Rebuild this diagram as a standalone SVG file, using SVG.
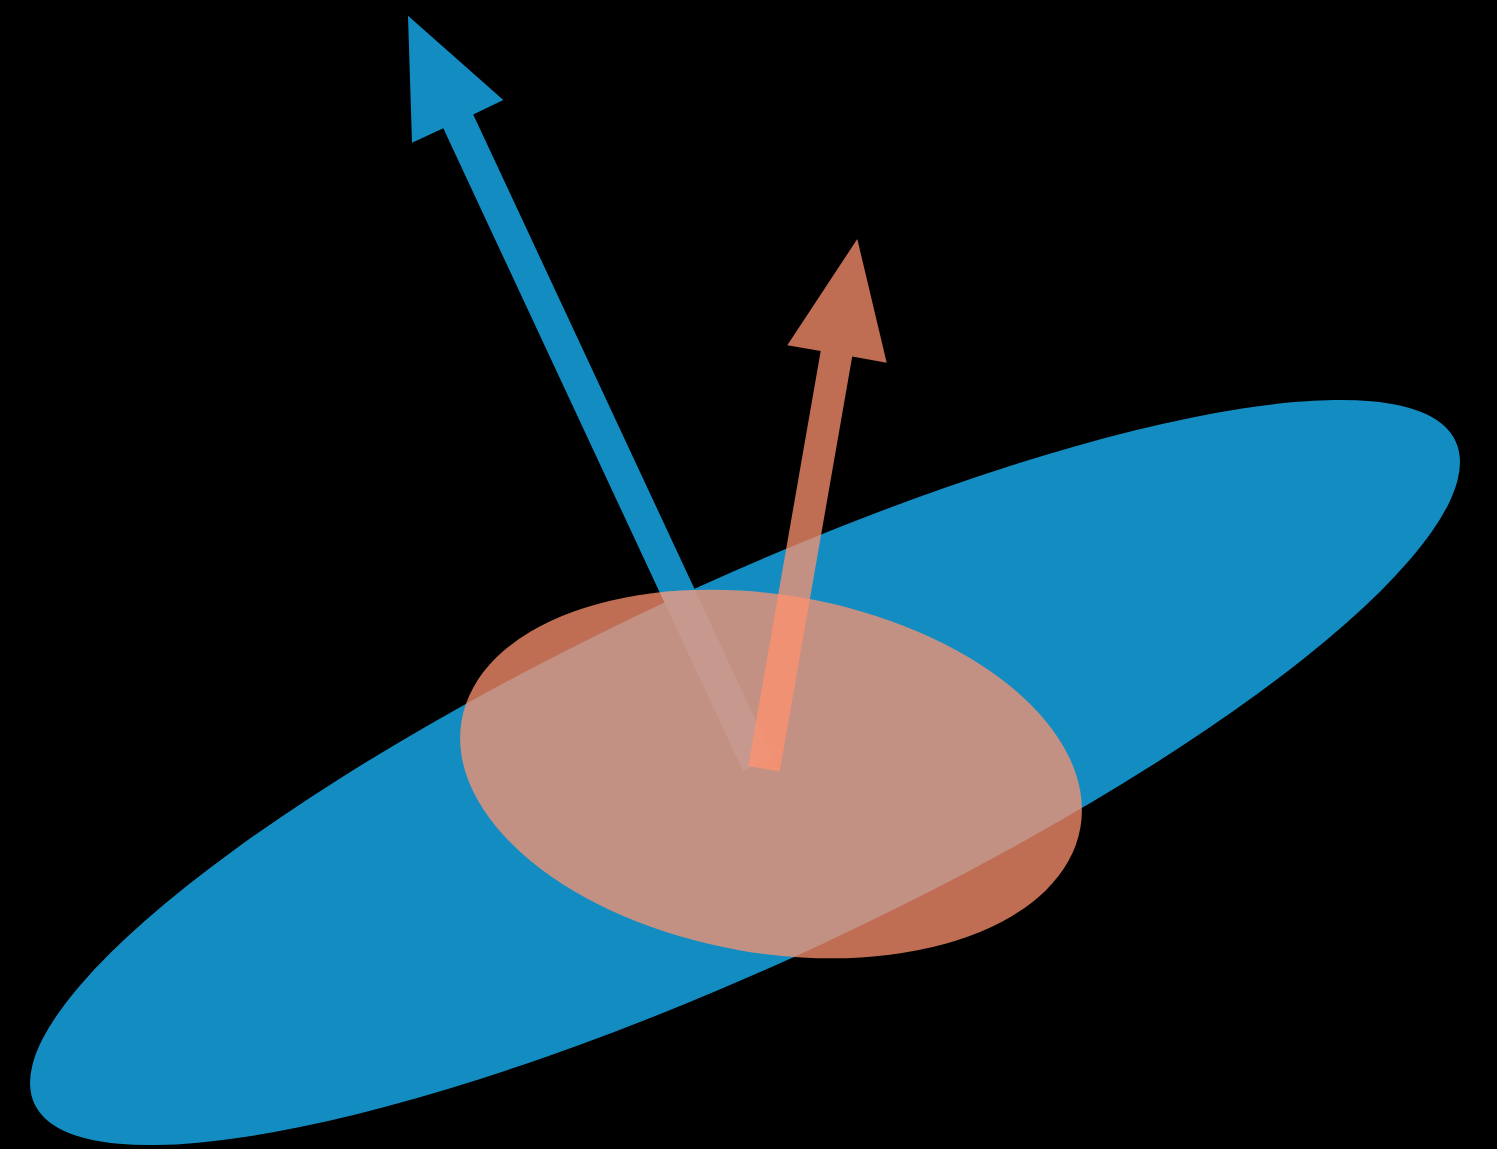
<svg xmlns="http://www.w3.org/2000/svg" width="1497" height="1149" viewBox="0 0 1497 1149">
  <defs>
    <style>
      .blue { fill: #138dc1; }
      .orange { fill: #ff916f; fill-opacity: 0.75; }
      .sheen { fill: #ffffff; fill-opacity: 0.08; }
    </style>
    <clipPath id="orangeClip">
      <ellipse cx="771" cy="774" rx="314" ry="179" transform="rotate(9.8 771 774)"/>
    </clipPath>
  </defs>
  <rect x="0" y="0" width="1497" height="1149" fill="#000000"/>
  <g id="blue-ellipse">
    <ellipse class="blue" cx="745" cy="772.5" rx="784" ry="188" transform="rotate(-25 745 772.5)"/>
  </g>
  <g id="connectors">
    <g id="blue-arrow">
      <polygon class="blue" points="743,771 443.3,128.3 412,142.7 408,15.7 503.3,100 473.2,114.4 772.9,757"/>
    </g>
  </g>
  <g id="orange-ellipse">
    <ellipse class="orange" cx="771" cy="774" rx="314" ry="179" transform="rotate(9.8 771 774)"/>
    <polygon class="sheen" clip-path="url(#orangeClip)" points="743,771 443.3,128.3 473.2,114.4 772.9,757"/>
  </g>
  <g id="orange-arrow">
    <polygon class="orange" points="748.3,766 820.7,351 787.3,345.3 857.3,239 886.7,362.7 852.2,356.5 779.8,771.5"/>
  </g>
</svg>
